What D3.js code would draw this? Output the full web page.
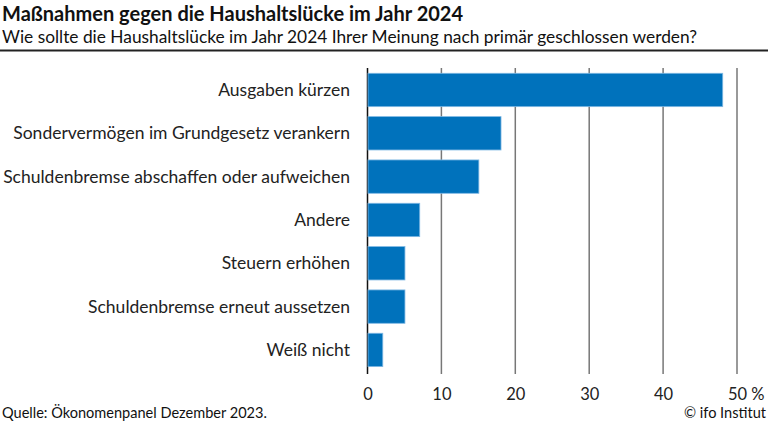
<!DOCTYPE html>
<html>
<head>
<meta charset="utf-8">
<script src="https://cdn.jsdelivr.net/npm/d3@7"></script>
<style>
  html, body { margin: 0; padding: 0; background: #fff; }
  svg { display: block; }
  text { font-family: "Source Sans Pro", Lato, "Noto Sans", sans-serif; }
</style>
</head>
<body>
<svg id="chart" width="768" height="432"></svg>
<script>
const categories = [
  "Ausgaben kürzen",
  "Sondervermögen im Grundgesetz verankern",
  "Schuldenbremse abschaffen oder aufweichen",
  "Andere",
  "Steuern erhöhen",
  "Schuldenbremse erneut aussetzen",
  "Weiß nicht"
];
const values = [48, 18, 15, 7, 5, 5, 2];
const ticks = [0, 10, 20, 30, 40, 50];
const title = "Maßnahmen gegen die Haushaltslücke im Jahr 2024";
const subtitle = "Wie sollte die Haushaltslücke im Jahr 2024 Ihrer Meinung nach primär geschlossen werden?";
const source = "Quelle: Ökonomenpanel Dezember 2023.";
const credit = "© ifo Institut";

const svg = d3.select("#chart");
const W = 768, H = 432;

const x = d3.scaleLinear().domain([0, 50]).range([367.5, 737]);
const y = d3.scaleBand().domain(categories).range([68.3, 371.6])
  .paddingInner(0.23).paddingOuter(0.115);

// fit helper: scale font so text reaches a target width
function fitWidth(sel, target) {
  const w = sel.node().getComputedTextLength();
  const fs = parseFloat(sel.attr("font-size"));
  sel.attr("font-size", (fs * target / w).toFixed(2));
}

// Title block
const tTitle = svg.append("text").attr("x", 2).attr("y", 21)
  .attr("font-size", 18).attr("font-weight", 700).attr("fill", "#111")
  .text(title);
fitWidth(tTitle, 461);
const tSub = svg.append("text").attr("x", 2).attr("y", 43)
  .attr("font-size", 16).attr("fill", "#111")
  .text(subtitle);
fitWidth(tSub, 695);
svg.append("line").attr("x1", 0).attr("x2", W).attr("y1", 50.5).attr("y2", 50.5)
  .attr("stroke", "#222").attr("stroke-width", 2);

// Gridlines
const gTop = 68, gBot = 374;
svg.append("g").selectAll("line").data(ticks).join("line")
  .attr("x1", d => x(d)).attr("x2", d => x(d))
  .attr("y1", gTop).attr("y2", gBot)
  .attr("stroke", d => d === 0 ? "#111" : "#777")
  .attr("stroke-width", 1.5);

// Bars
svg.append("g").selectAll("rect").data(values).join("rect")
  .attr("x", x(0) + 0.5)
  .attr("y", (d, i) => y(categories[i]))
  .attr("width", d => x(d) - x(0))
  .attr("height", y.bandwidth())
  .attr("fill", "#0072bc")
  .attr("stroke", "#7fb8e4")
  .attr("stroke-width", 0.8);

// Category labels
const labels = svg.append("g").selectAll("text").data(categories).join("text")
  .attr("x", 350)
  .attr("y", d => y(d) + y.bandwidth() / 2)
  .attr("dy", "0.35em")
  .attr("text-anchor", "end")
  .attr("font-size", 16.5)
  .attr("fill", "#222")
  .text(d => d);
// size labels so the longest one spans like the reference
const longest = labels.filter((d, i) => i === 2);
const lw = longest.node().getComputedTextLength();
labels.attr("font-size", (16.5 * 347 / lw).toFixed(2));

// X axis tick labels
const axis = d3.axisBottom(x).tickValues(ticks).tickSize(0).tickPadding(0)
  .tickFormat(d => d === 50 ? "50 %" : String(d));
const ax = svg.append("g").attr("transform", `translate(0, 388)`).call(axis);
ax.select(".domain").remove();
ax.selectAll("text")
  .attr("font-size", 16.5).attr("fill", "#222")
  .attr("font-family", "'Source Sans Pro', Lato, 'Noto Sans', sans-serif");
ax.selectAll(".tick").filter(d => d === 50).select("text").each(function() {
  const t = d3.select(this);
  const tmp = svg.append("text").attr("font-size", 16.5).text("50");
  const w = tmp.node().getComputedTextLength();
  tmp.remove();
  t.attr("text-anchor", "start").attr("x", -w / 2);
});

// Footer
const tSrc = svg.append("text").attr("x", 2).attr("y", 418)
  .attr("font-size", 15).attr("fill", "#111").text(source);
fitWidth(tSrc, 265);
svg.append("text").attr("x", 766).attr("y", 418).attr("text-anchor", "end")
  .attr("font-size", tSrc.attr("font-size")).attr("fill", "#111").text(credit);
</script>
</body>
</html>
